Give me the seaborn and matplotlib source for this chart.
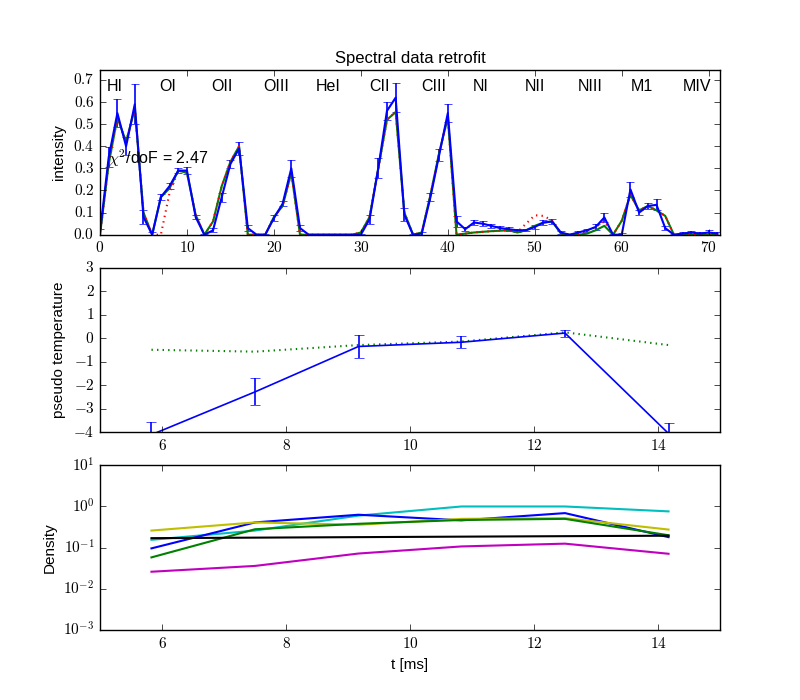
import numpy as np
import matplotlib
matplotlib.use('Agg')
import matplotlib.pyplot as plt
import seaborn as sns
from matplotlib.ticker import FuncFormatter, NullLocator, FixedLocator

# old-style look: classic matplotlib, serif mathtext tick labels
plt.style.use('classic')
plt.rcParams['font.family'] = ['Liberation Sans', 'DejaVu Sans']
plt.rcParams['mathtext.fontset'] = 'cm'
plt.rcParams['mathtext.default'] = 'rm'
plt.rcParams['font.size'] = 11

# --- spectral data (channel index 0..71) ---
channels = list(range(72))
intensity = [0.01, 0.35, 0.55, 0.40, 0.59, 0.08, 0.0, 0.17, 0.22, 0.29,
             0.29, 0.08, 0.0, 0.02, 0.17, 0.32, 0.39, 0.03, 0.0, 0.0,
             0.075, 0.14, 0.30, 0.03, 0.0, 0.0, 0.0, 0.0, 0.0, 0.0,
             0.0, 0.07, 0.30, 0.56, 0.62, 0.09, 0.0, 0.005, 0.17, 0.36,
             0.55, 0.06, 0.025, 0.055, 0.05, 0.04, 0.03, 0.025, 0.02, 0.02,
             0.035, 0.055, 0.06, 0.01, 0.0, 0.01, 0.02, 0.035, 0.078, 0.0,
             0.0, 0.205, 0.10, 0.13, 0.135, 0.03, 0.0, 0.005, 0.01, 0.005,
             0.01, 0.005]
intensity_err = [0.015, 0.045, 0.065, 0.04, 0.09, 0.03, 0.01, 0.015, 0.012, 0.01,
                 0.015, 0.01, 0.005, 0.01, 0.02, 0.018, 0.03, 0.015, 0.003, 0.003,
                 0.015, 0.012, 0.04, 0.015, 0.002, 0.002, 0.002, 0.002, 0.002, 0.002,
                 0.005, 0.02, 0.045, 0.04, 0.065, 0.03, 0.003, 0.008, 0.018, 0.028,
                 0.04, 0.025, 0.008, 0.01, 0.01, 0.01, 0.008, 0.008, 0.008, 0.005,
                 0.008, 0.01, 0.01, 0.005, 0.004, 0.005, 0.008, 0.012, 0.02, 0.005,
                 0.008, 0.035, 0.012, 0.012, 0.025, 0.01, 0.004, 0.006, 0.008, 0.005,
                 0.012, 0.006]
retrofit = [0.0, 0.32, 0.53, 0.42, 0.57, 0.10, 0.0, 0.17, 0.21, 0.29,
            0.28, 0.09, 0.0, 0.06, 0.22, 0.33, 0.40, 0.0, 0.0, 0.0,
            0.08, 0.13, 0.28, 0.0, 0.0, 0.0, 0.0, 0.0, 0.0, 0.0,
            0.01, 0.08, 0.30, 0.52, 0.555, 0.10, 0.0, 0.01, 0.18, 0.37,
            0.53, 0.0, 0.005, 0.01, 0.013, 0.016, 0.018, 0.02, 0.01, 0.02,
            0.04, 0.055, 0.06, 0.005, 0.0, 0.0, 0.005, 0.02, 0.04, 0.0,
            0.063, 0.18, 0.11, 0.13, 0.11, 0.085, 0.0, 0.0, 0.0, 0.0,
            0.0, 0.0]
first_fit = [0.0, 0.32, 0.53, 0.42, 0.57, 0.10, 0.0, 0.0, 0.19, 0.29,
             0.28, 0.09, 0.0, 0.06, 0.22, 0.33, 0.40, 0.0, 0.0, 0.0,
             0.08, 0.13, 0.28, 0.0, 0.0, 0.0, 0.0, 0.0, 0.0, 0.0,
             0.01, 0.08, 0.30, 0.52, 0.555, 0.10, 0.0, 0.01, 0.18, 0.37,
             0.53, 0.0, 0.005, 0.01, 0.013, 0.016, 0.018, 0.02, 0.012, 0.05,
             0.088, 0.085, 0.065, 0.005, 0.0, 0.0, 0.015, 0.035, 0.06, 0.0,
             0.063, 0.18, 0.11, 0.13, 0.11, 0.085, 0.0, 0.0, 0.0, 0.0,
             0.0, 0.0]

line_names = ['HI', 'OI', 'OII', 'OIII', 'HeI', 'CII', 'CIII', 'NI', 'NII', 'NIII', 'M1', 'MIV']
line_pos = [1.7, 7.8, 14.0, 20.3, 26.2, 32.1, 38.4, 43.8, 50.0, 56.4, 62.3, 68.7]
chi2_dof = 2.47

# --- time traces ---
t_ms = [5.83, 7.5, 9.17, 10.83, 12.5, 14.17]
pseudo_temp = [-4.1, -2.28, -0.35, -0.17, 0.22, -4.05]
pseudo_temp_err = [0.55, 0.57, 0.47, 0.25, 0.15, 0.45]
pseudo_temp_prior = [-0.49, -0.57, -0.29, -0.14, 0.25, -0.29]

density_c = [0.155, 0.26, 0.60, 1.0, 1.0, 0.76]
density_b = [0.096, 0.41, 0.63, 0.46, 0.69, 0.18]
density_y = [0.26, 0.41, 0.36, 0.50, 0.52, 0.275]
density_g = [0.058, 0.28, 0.38, 0.47, 0.50, 0.20]
density_k = [0.17, 0.175, 0.18, 0.185, 0.19, 0.195]
density_m = [0.026, 0.036, 0.072, 0.107, 0.125, 0.071]


def tex_fmt(fmt):
    def f(v, pos):
        return r'$\mathrm{' + (fmt % v) + '}$'
    return FuncFormatter(f)


def log_fmt(v, pos):
    return r'$10^{%d}$' % int(round(np.log10(v)))


fig, axes = plt.subplots(3, 1, figsize=(8, 7), dpi=100)

# panel 1: spectrum
ax1 = axes[0]
ax1.errorbar(channels, intensity, yerr=intensity_err, color='b', lw=1.5,
             capsize=3, elinewidth=1.2)
sns.lineplot(x=channels, y=retrofit, ax=ax1, color='g', lw=1.5, estimator=None, sort=False)
sns.lineplot(x=channels, y=first_fit, ax=ax1, color='r', lw=1.5, ls=':', estimator=None, sort=False)
for name, pos in zip(line_names, line_pos):
    ax1.text(pos, 0.67, name, ha='center', va='center', fontsize=11.5)
ax1.text(0.9, 0.32, r'$\chi^2$/doF = %.2f' % chi2_dof, fontsize=11.5)
ax1.set_xlim(0, 71.3)
ax1.set_ylim(0, 0.745)
ax1.set_title('Spectral data retrofit', fontsize=12)
ax1.set_ylabel('intensity')
ax1.xaxis.set_major_locator(FixedLocator(range(0, 71, 10)))
ax1.yaxis.set_major_locator(FixedLocator(np.arange(0, 0.71, 0.1)))
ax1.xaxis.set_major_formatter(tex_fmt('%d'))
ax1.yaxis.set_major_formatter(tex_fmt('%.1f'))

# panel 2: pseudo temperature
ax2 = axes[1]
ax2.errorbar(t_ms, pseudo_temp, yerr=pseudo_temp_err, color='b', lw=1.2,
             capsize=3.5, elinewidth=1.2)
sns.lineplot(x=t_ms, y=pseudo_temp_prior, ax=ax2, color='g', lw=1.5, ls=':', estimator=None)
ax2.set_xlim(5, 15)
ax2.set_ylim(-4, 3)
ax2.set_ylabel('pseudo temperature')
ax2.xaxis.set_major_locator(FixedLocator(range(6, 15, 2)))
ax2.yaxis.set_major_locator(FixedLocator(range(-4, 4)))
ax2.xaxis.set_major_formatter(tex_fmt('%d'))
ax2.yaxis.set_major_formatter(FuncFormatter(lambda v, p: r'$%d$' % v))

# panel 3: densities
ax3 = axes[2]
for vals, col in [(density_c, 'c'), (density_b, 'b'), (density_y, 'y'),
                  (density_g, 'g'), (density_k, 'k'), (density_m, 'm')]:
    sns.lineplot(x=t_ms, y=vals, ax=ax3, color=col, lw=1.5, estimator=None)
ax3.set_yscale('log')
ax3.set_xlim(5, 15)
ax3.set_ylim(1e-3, 1e1)
ax3.set_ylabel('Density')
ax3.set_xlabel('t [ms]')
ax3.xaxis.set_major_locator(FixedLocator(range(6, 15, 2)))
ax3.yaxis.set_major_locator(FixedLocator([1e-3, 1e-2, 1e-1, 1e0, 1e1]))
ax3.yaxis.set_minor_locator(NullLocator())
ax3.xaxis.set_major_formatter(tex_fmt('%d'))
ax3.yaxis.set_major_formatter(FuncFormatter(log_fmt))

for ax in axes:
    ax.tick_params(labelsize=11)

fig.savefig('out.png', dpi=100)
